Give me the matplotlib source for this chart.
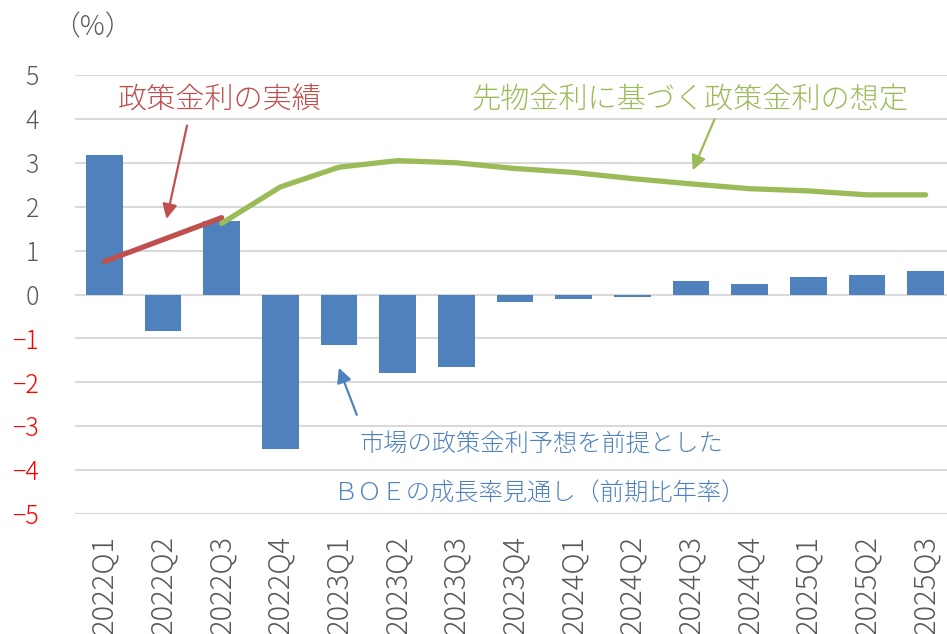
import numpy as np
import matplotlib
matplotlib.use('Agg')
import matplotlib.pyplot as plt

plt.rcParams['font.family'] = ['Noto Sans CJK JP', 'DejaVu Sans']

quarters = ['2022Q1', '2022Q2', '2022Q3', '2022Q4', '2023Q1', '2023Q2', '2023Q3', '2023Q4',
            '2024Q1', '2024Q2', '2024Q3', '2024Q4', '2025Q1', '2025Q2', '2025Q3']
growth = [3.17, -0.83, 1.67, -3.52, -1.15, -1.78, -1.65, -0.18,
          -0.11, -0.05, 0.30, 0.25, 0.39, 0.44, 0.53]
policy_actual = [0.75, 1.25, 1.75]          # 2022Q1-2022Q3
policy_futures = [1.62, 2.45, 2.90, 3.05, 3.00, 2.87, 2.78, 2.64,
                  2.52, 2.41, 2.36, 2.27, 2.27]  # 2022Q3-2025Q3

blue = '#4F81BD'
red = '#C0504D'
green = '#9BBB59'
gray = '#595959'

fig = plt.figure(figsize=(9.47, 6.34), dpi=100)
ax = fig.add_axes([75 / 947, 1 - 514 / 634, 880 / 947, 439 / 634])

x = np.arange(len(quarters))
ax.bar(x, growth, width=0.63, color=blue, zorder=2)
ax.plot(x[:3], policy_actual, color=red, lw=3.8, solid_capstyle='round', zorder=3)
ax.plot(x[2:], policy_futures, color=green, lw=3.8, solid_capstyle='round', zorder=3)

ax.set_xlim(-0.5, len(quarters) - 0.5)
ax.set_ylim(-5, 5)
ax.set_yticks(range(-5, 6))
ax.set_xticks(x)
ax.set_xticklabels(quarters, rotation=90, fontsize=21, color=gray, va='top', fontweight='light')
ax.tick_params(axis='x', length=0, pad=15)
ax.tick_params(axis='y', length=0, pad=26, labelsize=18)
for lbl, v in zip(ax.get_yticklabels(), range(-5, 6)):
    lbl.set_color('#FF0000' if v < 0 else gray)
    lbl.set_fontweight('light')

ax.grid(axis='y', color='#D9D9D9', lw=1.5, zorder=0)
for s in ax.spines.values():
    s.set_visible(False)

fig.text(92 / 947, 1 - 27 / 634, '（%）', fontsize=20, color=gray, ha='center', va='center',
         fontweight='light')

ax.text(1.97, 4.43, '政策金利の実績', fontsize=21, color=red, ha='center', va='center', fontweight='light')
ax.annotate('', xy=(1.05, 1.66), xytext=(1.42, 3.91),
            arrowprops=dict(arrowstyle='-|>', color=red, lw=1.6, mutation_scale=22))

ax.text(9.98, 4.43, '先物金利に基づく政策金利の想定', fontsize=21, color=green, ha='center', va='center',
        fontweight='light')
ax.annotate('', xy=(10.01, 2.77), xytext=(10.42, 4.05),
            arrowprops=dict(arrowstyle='-|>', color=green, lw=1.6, mutation_scale=22))

ax.text(7.46, -3.41, '市場の政策金利予想を前提とした', fontsize=17.5, color=blue, ha='center', va='center',
        fontweight='light')
ax.text(7.42, -4.55, 'ＢＯＥの成長率見通し（前期比年率）', fontsize=17.5, color=blue, ha='center', va='center',
        fontweight='light')
ax.annotate('', xy=(3.98, -1.61), xytext=(4.32, -2.8),
            arrowprops=dict(arrowstyle='-|>', color=blue, lw=1.6, mutation_scale=22))

fig.savefig('out.png', dpi=100)
